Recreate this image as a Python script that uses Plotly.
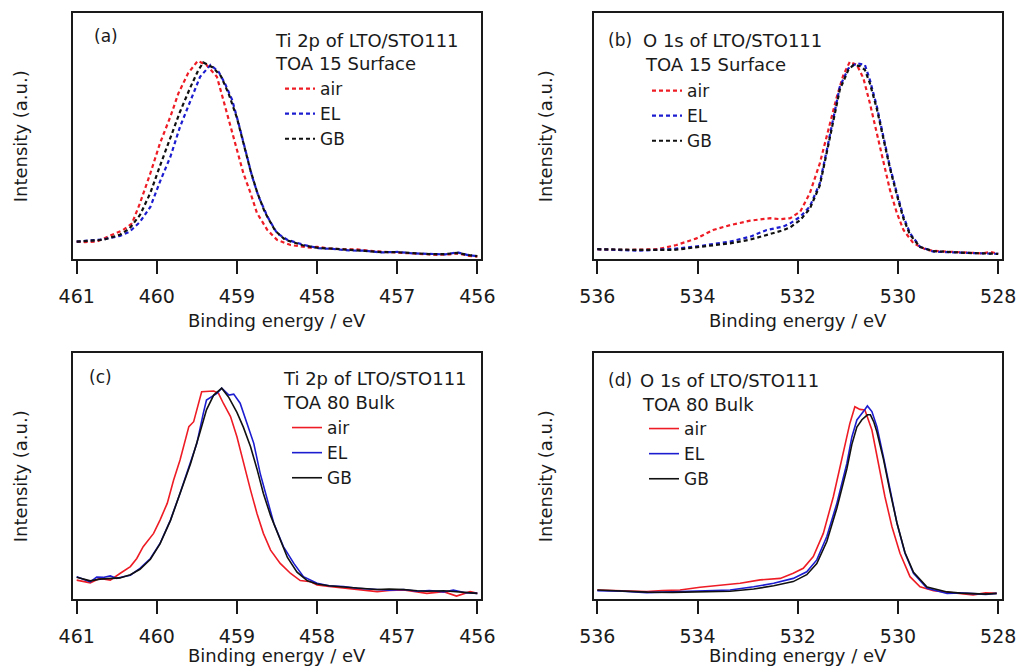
import plotly.graph_objects as go

# ---------------- data (binding energy eV, normalised intensity a.u.) ----------------
# (a) Ti 2p, TOA 15 surface
a_air_x = [461.0, 460.9, 460.75, 460.58, 460.42, 460.31, 460.21, 460.08, 459.96, 459.83, 459.73, 459.61, 459.49,
           459.38, 459.25, 459.17, 459.08, 459.0, 458.92, 458.83, 458.75, 458.62, 458.5, 458.33, 458.2, 458.08,
           458.0, 457.85, 457.67, 457.5, 457.3, 457.0, 456.8, 456.5, 456.35, 456.25, 456.1, 456.0]
a_air_y = [0.072, 0.070, 0.072, 0.095, 0.119, 0.146, 0.228, 0.35, 0.472, 0.58, 0.675, 0.756, 0.806,
           0.79, 0.742, 0.648, 0.539, 0.445, 0.35, 0.269, 0.188, 0.119, 0.079, 0.058, 0.052, 0.047,
           0.051, 0.044, 0.041, 0.040, 0.033, 0.027, 0.025, 0.018, 0.020, 0.024, 0.014, 0.011]
a_el_x = [461.0, 460.85, 460.67, 460.46, 460.34, 460.21, 460.08, 459.96, 459.83, 459.71, 459.58, 459.46, 459.33,
          459.23, 459.15, 459.06, 458.98, 458.9, 458.81, 458.73, 458.62, 458.5, 458.37, 458.16, 457.98, 457.8,
          457.6, 457.4, 457.2, 457.0, 456.8, 456.6, 456.4, 456.25, 456.1, 456.0]
a_el_y = [0.072, 0.075, 0.081, 0.095, 0.112, 0.152, 0.213, 0.316, 0.417, 0.539, 0.648, 0.742, 0.79,
          0.763, 0.715, 0.648, 0.553, 0.445, 0.336, 0.255, 0.174, 0.106, 0.079, 0.058, 0.045, 0.042,
          0.036, 0.035, 0.028, 0.030, 0.024, 0.022, 0.020, 0.028, 0.016, 0.013]
a_gb_x = [461.0, 460.85, 460.67, 460.46, 460.34, 460.21, 460.08, 459.96, 459.83, 459.71, 459.58, 459.48, 459.42,
          459.3, 459.2, 459.1, 459.0, 458.92, 458.83, 458.75, 458.65, 458.52, 458.4, 458.18, 457.98, 457.8,
          457.6, 457.4, 457.2, 457.0, 456.8, 456.6, 456.4, 456.25, 456.1, 456.0]
a_gb_y = [0.072, 0.074, 0.079, 0.10, 0.125, 0.18, 0.27, 0.38, 0.49, 0.60, 0.70, 0.77, 0.80,
          0.78, 0.745, 0.67, 0.575, 0.47, 0.36, 0.275, 0.19, 0.115, 0.08, 0.057, 0.046, 0.043,
          0.037, 0.034, 0.029, 0.029, 0.025, 0.021, 0.021, 0.026, 0.017, 0.013]

# (b) O 1s, TOA 15 surface
b_air_x = [536.0, 535.5, 535.0, 534.8, 534.42, 534.02, 533.69, 533.35, 532.95, 532.75, 532.55, 532.35, 532.15,
           531.95, 531.76, 531.56, 531.36, 531.22, 531.09, 530.96, 530.82, 530.69, 530.56, 530.42, 530.29,
           530.16, 530.02, 529.89, 529.69, 529.43, 529.2, 528.96, 528.7, 528.5, 528.3, 528.15, 528.0]
b_air_y = [0.041, 0.038, 0.040, 0.041, 0.058, 0.085, 0.119, 0.139, 0.157, 0.162, 0.167, 0.163, 0.167,
           0.194, 0.268, 0.39, 0.553, 0.661, 0.749, 0.803, 0.79, 0.736, 0.634, 0.512, 0.39,
           0.282, 0.187, 0.119, 0.065, 0.038, 0.033, 0.031, 0.027, 0.025, 0.024, 0.030, 0.022]
b_el_x = [536.0, 535.5, 535.15, 534.48, 533.95, 533.35, 532.95, 532.62, 532.29, 532.15, 531.95, 531.76, 531.56,
          531.42, 531.29, 531.16, 530.99, 530.82, 530.66, 530.56, 530.42, 530.29, 530.16, 530.02, 529.89,
          529.76, 529.56, 529.29, 529.0, 528.63, 528.3, 528.0]
b_el_y = [0.041, 0.037, 0.035, 0.042, 0.054, 0.072, 0.092, 0.119, 0.133, 0.146, 0.173, 0.214, 0.309,
          0.444, 0.58, 0.702, 0.776, 0.797, 0.79, 0.729, 0.62, 0.498, 0.376, 0.268, 0.173,
          0.106, 0.051, 0.031, 0.029, 0.027, 0.025, 0.022]
b_gb_x = [536.0, 535.5, 535.15, 534.48, 533.95, 533.35, 532.95, 532.62, 532.29, 532.15, 531.95, 531.76, 531.56,
          531.42, 531.29, 531.16, 530.99, 530.89, 530.75, 530.66, 530.56, 530.42, 530.29, 530.16, 530.02,
          529.89, 529.76, 529.56, 529.29, 529.0, 528.63, 528.3, 528.0]
b_gb_y = [0.041, 0.039, 0.038, 0.038, 0.05, 0.065, 0.08, 0.10, 0.118, 0.13, 0.16, 0.205, 0.30,
          0.435, 0.57, 0.69, 0.77, 0.79, 0.785, 0.77, 0.715, 0.61, 0.49, 0.37, 0.26,
          0.165, 0.10, 0.05, 0.033, 0.029, 0.026, 0.024, 0.022]

# (c) Ti 2p, TOA 80 bulk
c_air_x = [461.0, 460.92, 460.83, 460.71, 460.64, 460.58, 460.46, 460.33, 460.25, 460.17, 460.04, 459.96, 459.87,
           459.79, 459.71, 459.6, 459.54, 459.48, 459.44, 459.29, 459.23, 459.17, 459.08, 459.0, 458.92,
           458.83, 458.75, 458.67, 458.58, 458.46, 458.33, 458.21, 458.08, 458.0, 457.85, 457.67, 457.5,
           457.25, 457.1, 456.92, 456.75, 456.63, 456.42, 456.26, 456.09, 456.0]
c_air_y = [0.078, 0.072, 0.067, 0.085, 0.080, 0.078, 0.105, 0.133, 0.166, 0.214, 0.268, 0.322, 0.39,
           0.485, 0.566, 0.702, 0.722, 0.797, 0.844, 0.847, 0.837, 0.797, 0.743, 0.661, 0.553,
           0.444, 0.349, 0.268, 0.20, 0.146, 0.105, 0.076, 0.071, 0.058, 0.052, 0.045, 0.040,
           0.031, 0.036, 0.038, 0.030, 0.024, 0.031, 0.013, 0.031, 0.024]
c_el_x = [461.0, 460.9, 460.83, 460.75, 460.67, 460.58, 460.5, 460.42, 460.33, 460.21, 460.08, 459.96, 459.83,
          459.71, 459.58, 459.5, 459.42, 459.38, 459.25, 459.19, 459.1, 459.04, 458.96, 458.87, 458.79,
          458.71, 458.62, 458.54, 458.42, 458.29, 458.17, 458.0, 457.85, 457.67, 457.5, 457.3, 457.1,
          456.92, 456.75, 456.6, 456.42, 456.3, 456.15, 456.0]
c_el_y = [0.092, 0.080, 0.071, 0.090, 0.089, 0.095, 0.085, 0.092, 0.098, 0.126, 0.166, 0.227, 0.322,
          0.431, 0.553, 0.634, 0.756, 0.81, 0.837, 0.858, 0.83, 0.834, 0.797, 0.715, 0.634,
          0.512, 0.404, 0.309, 0.214, 0.146, 0.092, 0.065, 0.055, 0.052, 0.045, 0.042, 0.037,
          0.040, 0.033, 0.036, 0.030, 0.038, 0.027, 0.024]
c_gb_x = [461.0, 460.9, 460.83, 460.71, 460.58, 460.46, 460.33, 460.21, 460.08, 459.96, 459.83, 459.71, 459.58,
          459.46, 459.38, 459.29, 459.19, 459.1, 459.0, 458.92, 458.83, 458.75, 458.67, 458.58, 458.46,
          458.37, 458.25, 458.12, 458.0, 457.85, 457.67, 457.5, 457.25, 457.1, 456.92, 456.75, 456.63,
          456.42, 456.26, 456.1, 456.0]
c_gb_y = [0.090, 0.080, 0.075, 0.082, 0.085, 0.087, 0.10, 0.122, 0.163, 0.225, 0.32, 0.43, 0.55,
          0.68, 0.77, 0.83, 0.858, 0.82, 0.76, 0.70, 0.62, 0.53, 0.43, 0.34, 0.24,
          0.17, 0.11, 0.075, 0.062, 0.055, 0.050, 0.045, 0.040, 0.042, 0.040, 0.035, 0.033,
          0.035, 0.030, 0.028, 0.024]

# (d) O 1s, TOA 80 bulk
d_air_x = [536.0, 535.5, 535.01, 534.7, 534.35, 533.95, 533.55, 533.15, 532.75, 532.35, 532.09, 531.89, 531.69,
           531.49, 531.29, 531.09, 530.96, 530.86, 530.76, 530.66, 530.52, 530.39, 530.26, 530.12, 529.96,
           529.76, 529.56, 529.29, 528.9, 528.7, 528.5, 528.25, 528.03]
d_air_y = [0.038, 0.034, 0.031, 0.036, 0.038, 0.049, 0.058, 0.065, 0.079, 0.085, 0.106, 0.126, 0.174,
           0.268, 0.417, 0.593, 0.715, 0.783, 0.772, 0.77, 0.688, 0.552, 0.417, 0.295, 0.187,
           0.092, 0.051, 0.035, 0.027, 0.025, 0.018, 0.026, 0.024]
d_el_x = [536.0, 535.5, 535.01, 534.5, 534.02, 533.35, 532.88, 532.48, 532.09, 531.82, 531.62, 531.42, 531.22,
          531.02, 530.92, 530.82, 530.69, 530.61, 530.52, 530.42, 530.29, 530.16, 530.02, 529.86, 529.69,
          529.42, 529.02, 528.75, 528.5, 528.25, 528.03]
d_el_y = [0.035, 0.033, 0.027, 0.030, 0.031, 0.038, 0.051, 0.065, 0.085, 0.112, 0.16, 0.255, 0.39,
          0.552, 0.66, 0.729, 0.763, 0.786, 0.763, 0.702, 0.579, 0.444, 0.309, 0.187, 0.106,
          0.045, 0.024, 0.026, 0.024, 0.020, 0.024]
d_gb_x = [536.0, 535.5, 535.0, 534.5, 534.02, 533.35, 532.88, 532.48, 532.09, 531.82, 531.62, 531.42, 531.22,
          531.02, 530.92, 530.82, 530.72, 530.61, 530.55, 530.48, 530.42, 530.29, 530.16, 530.02, 529.86,
          529.69, 529.42, 529.02, 528.75, 528.5, 528.25, 528.03]
d_gb_y = [0.038, 0.032, 0.029, 0.028, 0.030, 0.033, 0.042, 0.055, 0.072, 0.10, 0.145, 0.235, 0.37,
          0.53, 0.63, 0.70, 0.73, 0.75, 0.75, 0.72, 0.68, 0.57, 0.44, 0.31, 0.19,
          0.11, 0.05, 0.03, 0.025, 0.022, 0.021, 0.024]

series_names = ["air", "EL", "GB"]
ti_ticks = [461, 460, 459, 458, 457, 456]
o_ticks = [536, 534, 532, 530, 528]
x_title = "Binding energy / eV"
y_title = "Intensity (a.u.)"
headers = ["Ti 2p of LTO/STO111", "O 1s of LTO/STO111", "Ti 2p of LTO/STO111", "O 1s of LTO/STO111"]
subheaders = ["TOA 15 Surface", "TOA 15 Surface", "TOA 80 Bulk", "TOA 80 Bulk"]
panel_tags = ["(a)", "(b)", "(c)", "(d)"]

# ---------------- styling ----------------
W, H = 1019, 668
FONT = "DejaVu Sans"
INK = "#1a1a1a"
colors = ["#ee1c25", "#1c1cd0", "#111111"]


def px(x):
    return x / W


def py(y):
    return 1 - y / H


panels = [
    dict(data=[(a_air_x, a_air_y), (a_el_x, a_el_y), (a_gb_x, a_gb_y)], dash="4px,3px", width=2.2),
    dict(data=[(b_air_x, b_air_y), (b_el_x, b_el_y), (b_gb_x, b_gb_y)], dash="4px,3px", width=2.2),
    dict(data=[(c_air_x, c_air_y), (c_el_x, c_el_y), (c_gb_x, c_gb_y)], dash="solid", width=1.6),
    dict(data=[(d_air_x, d_air_y), (d_el_x, d_el_y), (d_gb_x, d_gb_y)], dash="solid", width=1.6),
]

# pixel geometry of each plotting box: left, right, top, bottom
boxes = [(73.3, 480.7, 13.3, 259.3), (594.0, 1001.7, 13.3, 259.3),
         (73.3, 480.7, 353.3, 599.3), (594.0, 1001.7, 353.3, 599.3)]
xranges = [[461.042, 455.958], [536.066, 527.93], [461.042, 455.958], [536.066, 527.93]]
tickvals = [ti_ticks, o_ticks, ti_ticks, o_ticks]

# legend / text placement (pixels)
legend_pos = [(280, 71), (647, 73), (287, 410), (644, 411)]
tag_pos = [(92, 36), (606, 40), (87, 377), (606, 380)]
head_pos = [(273, 40), (641, 40), (281, 378), (638, 380)]
sub_pos = [(273, 64), (643, 65), (281, 402), (640, 404)]
xtitle_y = [320, 320, 655, 655]
ytitle_x = [20, 545, 20, 545]

fig = go.Figure()
layout = dict(
    width=W, height=H,
    margin=dict(l=0, r=0, t=0, b=0, autoexpand=False),
    paper_bgcolor="white", plot_bgcolor="white",
    font=dict(family=FONT, color=INK, size=17),
    annotations=[],
)


def text(txt, x, y, xanchor="left", angle=0, size=18):
    return dict(text=txt, x=px(x), y=py(y), xref="paper", yref="paper",
                xanchor=xanchor, yanchor="middle", showarrow=False, textangle=angle,
                font=dict(size=size, family=FONT, color=INK))


for i, p in enumerate(panels):
    k = "" if i == 0 else str(i + 1)
    leg = "legend" if i == 0 else f"legend{i + 1}"
    for j, (xs, ys) in enumerate(p["data"]):
        fig.add_trace(go.Scatter(
            x=xs, y=ys, mode="lines", name=series_names[j],
            line=dict(color=colors[j], width=p["width"], dash=p["dash"]),
            xaxis="x" + k, yaxis="y" + k, legend=leg, showlegend=True,
        ))
    l, r, t, b = boxes[i]
    layout["xaxis" + k] = dict(
        domain=[px(l), px(r)], anchor="y" + k, range=xranges[i], automargin=False,
        tickmode="array", tickvals=tickvals[i], ticks="outside", ticklen=13, tickwidth=1.5,
        tickcolor=INK, ticklabelstandoff=6,
        tickfont=dict(size=19, family=FONT),
        showline=True, linecolor=INK, linewidth=1.6, mirror=True,
        showgrid=False, zeroline=False,
    )
    layout["yaxis" + k] = dict(
        domain=[py(b), py(t)], anchor="x" + k, range=[0, 1], automargin=False,
        showticklabels=False, ticks="",
        showline=True, linecolor=INK, linewidth=1.6, mirror=True,
        showgrid=False, zeroline=False,
    )
    lx, ly = legend_pos[i]
    layout[leg] = dict(
        x=px(lx), y=py(ly), xanchor="left", yanchor="top",
        bgcolor="rgba(0,0,0,0)", borderwidth=0,
        font=dict(size=17, family=FONT, color=INK),
        tracegroupgap=0, itemclick=False, itemdoubleclick=False,
    )
    layout["annotations"] += [
        text(panel_tags[i], *tag_pos[i], size=17),
        text(headers[i], *head_pos[i]),
        text(subheaders[i], *sub_pos[i]),
        text(x_title, (l + r) / 2, xtitle_y[i], xanchor="center"),
        text(y_title, ytitle_x[i], (t + b) / 2, xanchor="center", angle=-90),
    ]

fig.update_layout(**layout)
fig.write_html("out.html", config={"displayModeBar": False},
               post_script="document.body.style.margin='0';document.body.style.overflow='hidden';")
